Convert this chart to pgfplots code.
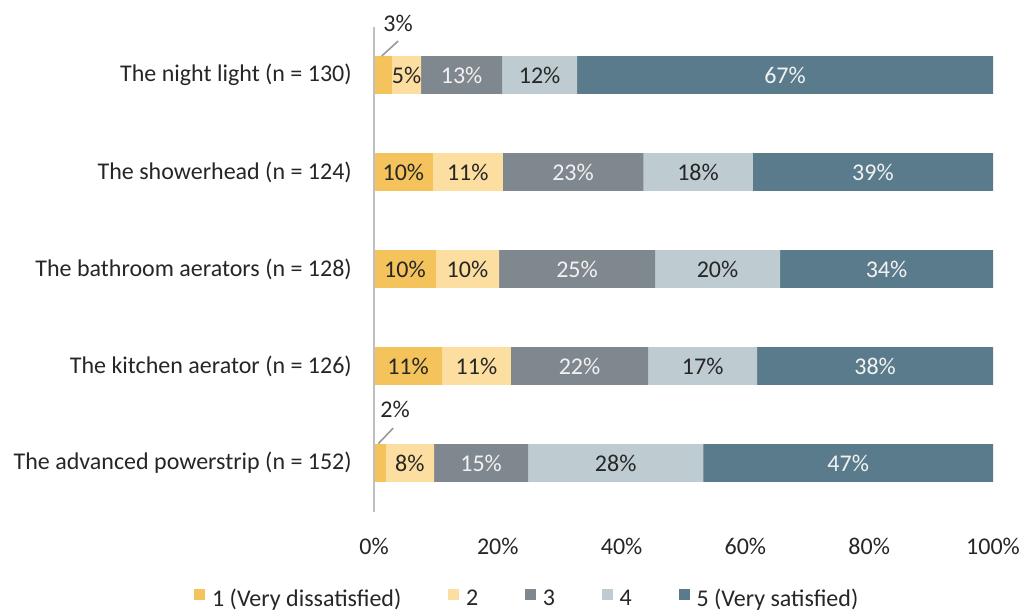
\documentclass[border=0pt]{standalone}
\usepackage{fontspec}
\setmainfont{Carlito}
\usepackage{pgfplots}
\pgfplotsset{compat=1.18}
\definecolor{c1}{HTML}{F5C35C}
\definecolor{c2}{HTML}{FCDFA0}
\definecolor{c3}{HTML}{80888F}
\definecolor{c4}{HTML}{BECCD2}
\definecolor{c5}{HTML}{5A7B8B}
\definecolor{txt}{HTML}{262626}
\definecolor{lighttxt}{HTML}{F2F2F2}
\definecolor{axgray}{HTML}{BFBFBF}
\pgfplotsset{
  seg/.style={xbar, bar width=0.39, bar shift=0pt, draw=none, fill=#1,
    legend image code/.code={\fill[##1] (0pt,-0.5pt) rectangle (8.5pt,8pt);}},
  lab/.style={forget plot, only marks, mark=*, mark size=0pt,
    mark options={draw=none, fill=none},
    nodes near coords, point meta=explicit symbolic,
    every node near coord/.append style={anchor=center, inner sep=0pt,
      font=\fontsize{18}{21.6}\selectfont, text=#1}},
}
\begin{document}
\fontsize{18}{21.6}\selectfont
\begin{tikzpicture}
\useasboundingbox (-280.5pt,-77.625pt) rectangle (486.75pt,383.625pt);
\begin{axis}[
  scale only axis, width=464.25pt, height=363.75pt,
  xmin=0, xmax=100, ymin=-0.5, ymax=4.5, y dir=reverse,
  axis line style={draw=none}, clip=false,
  xtick={0,20,40,60,80,100},
  xticklabel={\pgfmathprintnumber{\tick}\%},
  ytick={0,1,2,3,4},
  yticklabels={The night light (n = 130),The showerhead (n = 124),The bathroom aerators (n = 128),The kitchen aerator (n = 126),The advanced powerstrip (n = 152)},
  major tick length=0pt,
  /pgf/number format/assume math mode=true,
  tick label style={font=\fontsize{18}{21.6}\selectfont, text=txt},
  xticklabel style={inner sep=0pt, anchor=north, yshift=-19.5pt},
  yticklabel style={inner sep=0pt, anchor=east, xshift=-16.5pt},
  legend columns=5, reverse legend,
  legend style={at={(0.247,-0.182)}, anchor=center, draw=none, fill=none,
    font=\fontsize{18}{21.6}\selectfont, text=txt,
    nodes={inner sep=1pt},
    /tikz/every odd column/.append style={column sep=4pt},
    /tikz/every even column/.append style={column sep=34pt}},
]
\addplot[seg=c5] coordinates {(100,0) (100,1) (100,2) (100,3) (100,4)};
\addlegendentry{5 (Very satisfied)}
\addplot[seg=c4] coordinates {(32.8,0) (61.2,1) (65.6,2) (61.9,3) (53.2,4)};
\addlegendentry{4}
\addplot[seg=c3] coordinates {(20.7,0) (43.5,1) (45.4,2) (44.3,3) (24.9,4)};
\addlegendentry{3}
\addplot[seg=c2] coordinates {(7.6,0) (20.8,1) (20.2,2) (22.1,3) (9.7,4)};
\addlegendentry{2}
\addplot[seg=c1] coordinates {(2.9,0) (9.5,1) (10.0,2) (11.0,3) (1.9,4)};
\addlegendentry{1 (Very dissatisfied)}
% dark labels (series 1, 2, 4 and outside labels)
\addplot[lab=txt] coordinates {
  (4.75,1) [10\%] (5.0,2) [10\%] (5.5,3) [11\%]
  (5.25,0) [5\%] (15.15,1) [11\%] (15.1,2) [10\%] (16.55,3) [11\%] (5.8,4) [8\%]
  (26.75,0) [12\%] (52.35,1) [18\%] (55.5,2) [20\%] (53.1,3) [17\%] (39.05,4) [28\%]
  (3.9,-0.53) [3\%] (3.4,3.45) [2\%]
};
% light labels (series 3 and 5)
\addplot[lab=lighttxt] coordinates {
  (14.15,0) [13\%] (32.15,1) [23\%] (32.8,2) [25\%] (33.2,3) [22\%] (17.3,4) [15\%]
  (66.4,0) [67\%] (80.6,1) [39\%] (82.8,2) [34\%] (80.95,3) [38\%] (76.6,4) [47\%]
};
\draw[axgray, line width=1.5pt] (axis cs:0,-0.5) -- (axis cs:0,4.5);
\draw[gray!80, line width=1.2pt] (axis cs:1.25,-0.196) -- (axis cs:3.9,-0.35);
\draw[gray!80, line width=1.2pt] (axis cs:0.7,3.80) -- (axis cs:3.1,3.64);
\end{axis}
\end{tikzpicture}
\end{document}
